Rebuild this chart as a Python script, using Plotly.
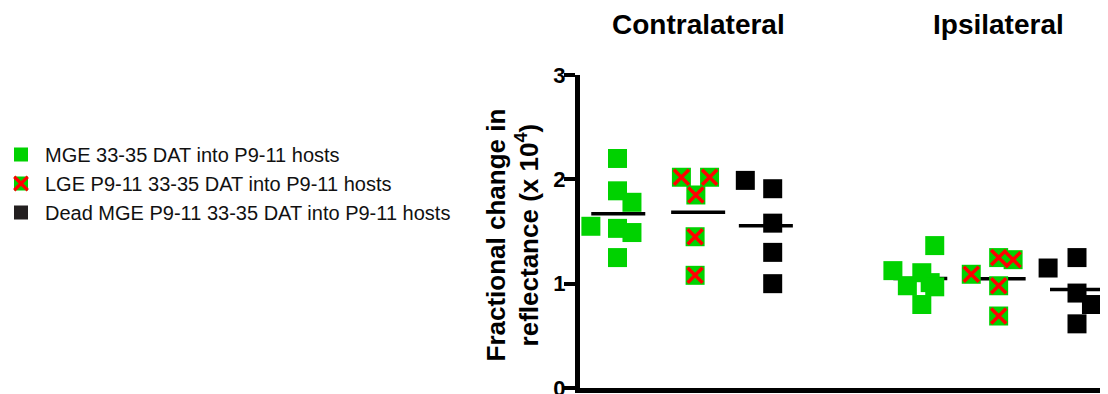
import numpy as np
import plotly.graph_objects as go

# ---------------- data ----------------
side_titles = ["Contralateral", "Ipsilateral"]
series_names = [
    "MGE 33-35 DAT into P9-11 hosts",
    "LGE P9-11 33-35 DAT into P9-11 hosts",
    "Dead MGE P9-11 33-35 DAT into P9-11 hosts",
]
contra_mge = [2.20, 1.89, 1.78, 1.55, 1.53, 1.49, 1.25]
contra_lge = [2.02, 2.02, 1.85, 1.45, 1.08]
contra_dead = [1.99, 1.91, 1.58, 1.30, 1.00]
ipsi_mge = [1.365, 1.125, 1.105, 0.98, 1.01, 0.97, 0.80]
ipsi_lge = [1.09, 1.25, 1.23, 0.98, 0.69]
ipsi_dead = [1.15, 1.25, 0.91, 0.80, 0.615]
y_ticks = [0, 1, 2, 3]

# ---------------- layout / positions (not data) ----------------
group_pos = [0.0, 1.05, 1.94, 3.97, 5.0, 6.03]
jitter = [
    [-0.01, -0.01, 0.18, -0.36, -0.01, 0.18, -0.01],
    [-0.22, 0.15, -0.03, -0.04, -0.04],
    [-0.27, 0.09, 0.09, 0.09, 0.09],
    [0.19, -0.36, 0.02, -0.17, 0.13, 0.19, 0.02],
    [-0.36, 0.0, 0.19, 0.0, 0.0],
    [-0.38, 0.0, 0.0, 0.19, 0.0],
]
mean_half = 0.355

# the page body has an 8px margin, so the figure is sized/placed to compensate
OFF = 8
W, H = 1108 - OFF, 394 - OFF
PL, PR = 580 - OFF, 1105 - OFF      # plot area left/right in figure px
PT, PB = 75 - OFF, 388 - OFF        # plot area top/bottom in figure px

GREEN = "#00D200"
BLACK = "#000000"
RED = "#FF0000"
FONT = "Arial, Liberation Sans, sans-serif"

groups = [
    (contra_mge, 0), (contra_lge, 1), (contra_dead, 2),
    (ipsi_mge, 0), (ipsi_lge, 1), (ipsi_dead, 2),
]
fill = [GREEN, GREEN, BLACK]

fig = go.Figure()

# mean lines first (below markers)
for gi, (vals, kind) in enumerate(groups):
    m = float(np.mean(vals))
    c = group_pos[gi]
    fig.add_trace(go.Scatter(
        x=[c - mean_half, c + mean_half], y=[m, m], mode="lines",
        line=dict(color=BLACK, width=3.5), hoverinfo="skip", showlegend=False))

for gi, (vals, kind) in enumerate(groups):
    c = group_pos[gi]
    xs = [c + j for j in jitter[gi]]
    fig.add_trace(go.Scatter(
        x=xs, y=vals, mode="markers",
        marker=dict(symbol="square", size=19, color=fill[kind], line=dict(width=0)),
        showlegend=False))
    if kind == 1:
        fig.add_trace(go.Scatter(
            x=xs, y=vals, mode="markers",
            marker=dict(symbol="x-thin", size=15, color=RED,
                        line=dict(width=3.5, color=RED)),
            showlegend=False))

# custom legend on a hidden secondary axis pair (x units = screen px, y units = row)
leg_x_dom = 0.45
for k in range(3):
    fig.add_trace(go.Scatter(
        x=[21], y=[k], xaxis="x2", yaxis="y2", mode="markers",
        marker=dict(symbol="square", size=14,
                    color=[GREEN, GREEN, "#231F20"][k], line=dict(width=0)),
        showlegend=False))
    if k == 1:
        fig.add_trace(go.Scatter(
            x=[21], y=[k], xaxis="x2", yaxis="y2", mode="markers",
            marker=dict(symbol="x-thin", size=13.5, color=RED,
                        line=dict(width=3.2, color=RED)),
            showlegend=False))
    fig.add_annotation(x=43, y=k, xref="x2", yref="y2", text=series_names[k],
                       showarrow=False, xanchor="left", yanchor="middle",
                       font=dict(size=20, color="#111111", family=FONT))

# side titles
for t, gx in zip(side_titles, [group_pos[1], group_pos[4]]):
    fig.add_annotation(x=gx, y=(PB - (24 - OFF)) / (PB - PT), xref="x", yref="paper",
                       text="<b>%s</b>" % t,
                       showarrow=False, xanchor="center", yanchor="middle",
                       font=dict(size=28, color="black", family=FONT))

# y axis title
fig.add_annotation(x=(512.5 - OFF) / PR, y=(PB - (235 - OFF)) / (PB - PT),
                   xref="paper", yref="paper",
                   text="<b>Fractional change in<br>reflectance (x 10<sup>4</sup>)</b>",
                   textangle=-90, showarrow=False, xanchor="center", yanchor="middle",
                   font=dict(size=26, color="black", family=FONT))

# y2 range: row k sits at screen y = 154.5 + 29*k
top_k = ((PT + OFF) - 154.5) / 29.0
bot_k = ((PB + OFF) - 154.5) / 29.0

fig.update_layout(
    width=W, height=H,
    margin=dict(l=0, r=W - PR, t=PT, b=H - PB, pad=0, autoexpand=False),
    plot_bgcolor="white", paper_bgcolor="white",
    showlegend=False,
    font=dict(family=FONT, color="black"),
    xaxis=dict(domain=[PL / PR, 1], range=[-0.503, 6.398], automargin=False,
               showline=True, linewidth=5, linecolor="black",
               showgrid=False, zeroline=False, showticklabels=False, ticks=""),
    yaxis=dict(range=[0, 3], tickvals=y_ticks, ticktext=[str(v) for v in y_ticks],
               automargin=False,
               ticks="outside", ticklen=11, tickwidth=4, tickcolor="black",
               showline=True, linewidth=5, linecolor="black",
               showgrid=False, zeroline=False,
               ticklabeloverflow="allow", ticklabelstandoff=-6,
               tickfont=dict(size=22, weight="bold", family=FONT, color="black")),
    xaxis2=dict(domain=[0, leg_x_dom], range=[OFF, OFF + leg_x_dom * PR], visible=False),
    yaxis2=dict(domain=[0, 1], range=[bot_k, top_k], visible=False, anchor="x2"),
)

fig.write_html("out.html")
